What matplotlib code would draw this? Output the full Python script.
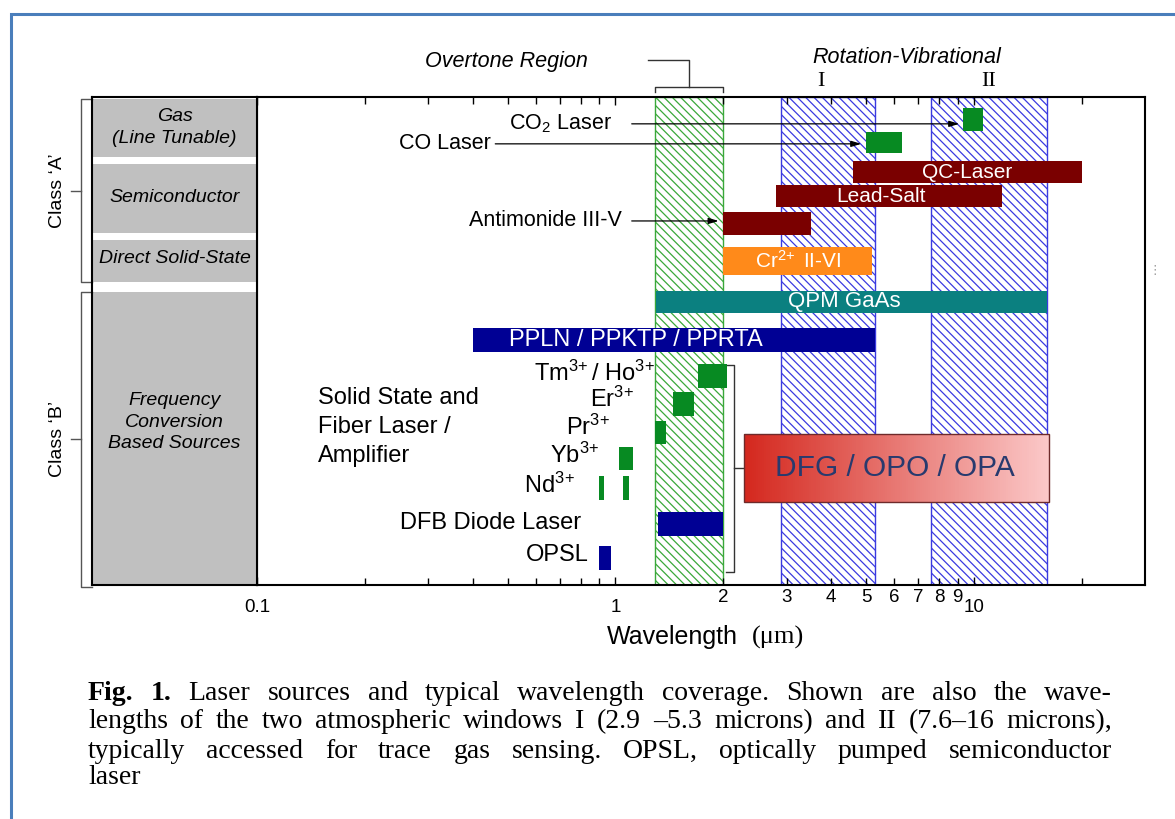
import numpy as np
import matplotlib
matplotlib.use('Agg')
from matplotlib import pyplot as plt
from matplotlib.patches import Rectangle
from matplotlib.colors import LinearSegmentedColormap
from matplotlib.ticker import FixedLocator, FixedFormatter

plt.rcParams['font.family'] = ['Liberation Sans', 'DejaVu Sans']
plt.rcParams['mathtext.fontset'] = 'custom'
plt.rcParams['mathtext.rm'] = 'Liberation Sans'
plt.rcParams['mathtext.it'] = 'Liberation Sans:italic'
plt.rcParams['hatch.linewidth'] = 0.9

W, H = 1175, 819

# ---- data (wavelengths in microns) ----
bar_names = ['CO2', 'CO', 'QC-Laser', 'Lead-Salt', 'Antimonide', 'Cr II-VI',
             'QPM GaAs', 'PPLN', 'Tm/Ho', 'Er', 'Pr', 'Yb', 'Nd', 'Nd',
             'DFB', 'OPSL']
bar_lo = [9.3, 5.0, 4.6, 2.8, 2.0, 2.0, 1.3, 0.4, 1.70, 1.45, 1.29, 1.02, 0.90, 1.05, 1.31, 0.90]
bar_hi = [10.6, 6.3, 20.0, 12.0, 3.5, 5.2, 16.0, 5.3, 2.05, 1.66, 1.38, 1.12, 0.93, 1.09, 2.0, 0.97]
# row position (0 = top, 100 = bottom) and thickness
bar_row = [4.6, 9.3, 15.4, 20.3, 25.9, 33.6, 42.0, 49.8, 57.2, 62.9, 68.75, 74.1, 80.1, 80.1, 87.5, 94.5]
bar_h = [4.7, 4.3, 4.5, 4.5, 4.7, 5.7, 4.5, 4.9, 4.9, 4.9, 4.7, 4.7, 4.9, 4.9, 4.9, 4.9]
bar_colors = ['#078a22', '#078a22', '#7a0000', '#7a0000', '#7a0000', '#ff8a1a',
              '#0b8080', '#000094', '#078a22', '#078a22', '#078a22', '#078a22',
              '#078a22', '#078a22', '#000094', '#000094']

# labels written inside bars
inside_text = ['QC-Laser', 'Lead-Salt', 'Cr$^{2\\!+}$ II-VI', 'QPM GaAs', 'PPLN / PPKTP / PPRTA']
inside_x = [9.6, 5.5, 3.22, 4.35, 1.14]
inside_y = [15.4, 20.3, 33.6, 42.0, 49.8]
inside_size = [15, 15, 15, 16, 17]

# labels left of bars
side_text = ['Tm$^{3\\!+}$/ Ho$^{3\\!+}$', 'Er$^{3\\!+}$', 'Pr$^{3\\!+}$', 'Yb$^{3\\!+}$',
             'Nd$^{3\\!+}$', 'DFB Diode Laser', 'OPSL']
side_x = [1.29, 1.13, 0.97, 0.90, 0.77, 0.80, 0.84]
side_y = [56.6, 62.0, 67.6, 73.4, 79.5, 87.3, 93.9]

# arrow labels
arrow_text = ['CO$_2$ Laser', 'CO Laser', 'Antimonide III-V']
arrow_text_x = [0.98, 0.45, 1.04]
arrow_start = [1.11, 0.462, 1.11]
arrow_end = [9.1, 4.85, 1.94]
arrow_y = [5.5, 9.6, 25.4]

# hatched windows
overtone = (1.29, 2.0)
windows = [(2.9, 5.3), (7.6, 16.0)]

# DFG / OPO / OPA box
dfg_lo, dfg_hi, dfg_row, dfg_h = 2.28, 16.2, 76.0, 13.9

# left classification panel
class_names = ['Gas\n(Line Tunable)', 'Semiconductor', 'Direct Solid-State',
               'Frequency\nConversion\nBased Sources']
class_top = [0.4, 13.7, 29.3, 40.0]
class_bot = [12.3, 27.9, 37.9, 100.0]
class_text_y = [6.3, 20.5, 33.0, 66.6]

xticks_major = [0.1, 1, 10]
xticks_minor = [0.2, 0.3, 0.4, 0.5, 0.6, 0.7, 0.8, 0.9, 2, 3, 4, 5, 6, 7, 8, 9, 20]
minor_labels = ['', '', '', '', '', '', '', '', '2', '3', '4', '5', '6', '7', '8', '9', '']

caption = [
    'Fig. 1. Laser sources and typical wavelength coverage. Shown are also the wave-',
    'lengths of the two atmospheric windows I (2.9 \u20135.3 microns) and II (7.6\u201316 microns),',
    'typically accessed for trace gas sensing. OPSL, optically pumped semiconductor',
    'laser',
]


def fig_rect(x0, y0, x1, y1):
    return [x0 / W, 1 - y1 / H, (x1 - x0) / W, (y1 - y0) / H]


fig = plt.figure(figsize=(W / 100, H / 100), dpi=100)
fig.patch.set_facecolor('white')

ax = fig.add_axes(fig_rect(257, 97, 1145, 585))
ax.set_xscale('log')
ax.set_xlim(0.1, 30)
ax.set_ylim(100, 0)
for s in ax.spines.values():
    s.set_linewidth(1.5)

# hatched regions
ax.axvspan(overtone[0], overtone[1], facecolor='none', edgecolor='#3aa83a',
           hatch='\\\\\\\\', lw=1.0, zorder=1)
for lo, hi in windows:
    ax.axvspan(lo, hi, facecolor='none', edgecolor='#3a3ae0',
               hatch='\\\\\\\\', lw=1.0, zorder=1)

# bars
for lo, hi, r, h, c in zip(bar_lo, bar_hi, bar_row, bar_h, bar_colors):
    ax.barh(r, hi - lo, left=lo, height=h, color=c, zorder=3)

for t, x, y, fs in zip(inside_text, inside_x, inside_y, inside_size):
    ax.text(x, y, t, color='white', fontsize=fs, ha='center', va='center', zorder=4)

for t, x, y in zip(side_text, side_x, side_y):
    ax.text(x, y, t, fontsize=17, ha='right', va='center')

for t, tx, x0, x1, y in zip(arrow_text, arrow_text_x, arrow_start, arrow_end, arrow_y):
    ax.annotate('', xy=(x1, y), xytext=(x0, y),
                arrowprops=dict(arrowstyle='-|>,head_length=0.6,head_width=0.18',
                                color='black', lw=0.9, shrinkA=0, shrinkB=0))
    ax.text(tx, y, t, fontsize=15.5, ha='right', va='center')

ax.text(0.148, 67.6, 'Solid State and\nFiber Laser /\nAmplifier', fontsize=17,
        ha='left', va='center', linespacing=1.4)

# DFG / OPO / OPA gradient box
cmap = LinearSegmentedColormap.from_list('dfg', ['#d4281e', '#fbc8c8'])
edges = np.logspace(np.log10(dfg_lo), np.log10(dfg_hi), 150)
for i in range(len(edges) - 1):
    ax.barh(dfg_row, edges[i + 1] - edges[i], left=edges[i], height=dfg_h,
            color=cmap(i / (len(edges) - 2)), lw=0, zorder=3)
ax.barh(dfg_row, dfg_hi - dfg_lo, left=dfg_lo, height=dfg_h, fill=False,
        edgecolor='#6e2a2a', lw=1.0, zorder=4)
ax.text(np.sqrt(dfg_lo * dfg_hi) * 0.99, dfg_row, 'DFG / OPO / OPA', fontsize=21.5,
        color='#283a6e', ha='center', va='center', zorder=5)

# bracket for the solid state group
bk = '#333333'
ax.plot([2.03, 2.14, 2.14, 2.03], [54.9, 54.9, 97.3, 97.3], color=bk, lw=1, zorder=2)
ax.plot([2.14, dfg_lo], [dfg_row, dfg_row], color=bk, lw=1, zorder=2)

# overtone bracket above the axes
mid = np.sqrt(overtone[0] * overtone[1])
ax.plot([overtone[0], overtone[0], overtone[1], overtone[1]], [-1.0, -2.05, -2.05, -1.0],
        color=bk, lw=1, clip_on=False)
ax.plot([mid, mid, 1.23], [-2.05, -7.6, -7.6], color=bk, lw=1, clip_on=False)
ax.text(0.84, -7.3, 'Overtone Region', fontsize=15.5, style='italic', ha='right', va='center')
ax.text(6.5, -8.0, 'Rotation-Vibrational', fontsize=15.5, style='italic', ha='center', va='center')
ax.text(3.75, -3.2, 'I', fontsize=16, family='Liberation Serif', ha='center', va='center')
ax.text(11.0, -3.2, 'II', fontsize=16, family='Liberation Serif', ha='center', va='center')

# ticks
ax.xaxis.set_major_locator(FixedLocator(xticks_major))
ax.xaxis.set_major_formatter(FixedFormatter(['0.1', '1', '10']))
ax.xaxis.set_minor_locator(FixedLocator(xticks_minor))
ax.xaxis.set_minor_formatter(FixedFormatter(minor_labels))
ax.tick_params(axis='x', which='both', direction='in', top=True, bottom=True,
               labelsize=13.5, width=1)
ax.tick_params(axis='x', which='major', length=6, pad=10)
ax.tick_params(axis='x', which='minor', length=5, pad=3)
ax.tick_params(axis='y', left=False, labelleft=False)
ax.set_yticks([])

# left classification panel
side = fig.add_axes(fig_rect(92, 97, 257, 585))
side.set_xlim(0, 1)
side.set_ylim(100, 0)
side.set_xticks([])
side.set_yticks([])
for s in side.spines.values():
    s.set_linewidth(1.5)
for name, t, b, ty in zip(class_names, class_top, class_bot, class_text_y):
    side.barh((t + b) / 2, 1, left=0, height=b - t, color='#c0c0c0', lw=0)
    side.text(0.5, ty, name, fontsize=14, style='italic', ha='center', va='center',
              linespacing=1.35)
gx, tx = -0.067, -0.125
side.plot([0, gx, gx, 0], [0.4, 0.4, 37.9, 37.9], color='#555555', lw=1, clip_on=False)
side.plot([gx, tx], [19.2, 19.2], color='#555555', lw=1, clip_on=False)
side.plot([0, gx, gx, 0], [40.0, 40.0, 100.4, 100.4], color='#555555', lw=1, clip_on=False)
side.plot([gx, tx], [70.1, 70.1], color='#555555', lw=1, clip_on=False)
side.text(-0.21, 19.2, 'Class \u2018A\u2019', rotation=90, fontsize=14, ha='center', va='center')
side.text(-0.21, 70.1, 'Class \u2018B\u2019', rotation=90, fontsize=14, ha='center', va='center')

# axis label
fig.text(738 / W, 1 - 637 / H, 'Wavelength', fontsize=18, ha='right', va='center')
fig.text(752 / W, 1 - 637 / H, '(\u03bcm)', fontsize=19, family='Liberation Serif',
         ha='left', va='center')

# stray dots at right
fig.text(1155 / W, 1 - 271 / H, '\u22ee', fontsize=9, color='#999999', ha='center', va='center')

# frame
fig.add_artist(Rectangle((11 / W, -0.1), 1.2, (1 - 14 / H) + 0.1, transform=fig.transFigure,
                         fill=False, edgecolor='#4a7ebb', lw=2.2))

# caption, justified between x0 and x1
renderer = fig.canvas.get_renderer()
x0, x1 = 88, 1112
line_y = [693, 722, 751, 777]
for k, (line, ly) in enumerate(zip(caption, line_y)):
    words = line.split(' ')
    texts = []
    for i, w in enumerate(words):
        bold = (k == 0 and i < 2)
        texts.append(fig.text(0, 1 - ly / H, w, fontsize=20, family='Liberation Serif',
                              weight='bold' if bold else 'normal', va='center', ha='left'))
    widths = [t.get_window_extent(renderer).width for t in texts]
    if k < len(caption) - 1:
        gap = (x1 - x0 - sum(widths)) / (len(words) - 1)
    else:
        gap = 5
    x = x0
    for t, w in zip(texts, widths):
        t.set_x(x / W)
        x += w + gap

fig.savefig('out.png', dpi=100)
